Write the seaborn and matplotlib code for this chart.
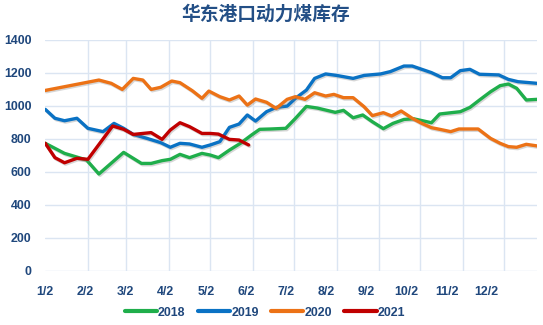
import numpy as np
import pandas as pd
import matplotlib
matplotlib.use("Agg")
import matplotlib.pyplot as plt
import matplotlib.dates as mdates
import matplotlib.patheffects as pe
import seaborn as sns

# ---- data: weekly thermal-coal stocks at East China ports (10k t) ----
dates_2018 = ["01-02", "01-16", "02-01", "02-10", "02-28", "03-13", "03-20", "03-28",
              "04-03", "04-10", "04-17", "04-26", "05-02", "05-08", "05-16", "05-24",
              "06-01", "06-07", "06-15", "06-26", "07-03", "07-11", "07-19", "08-01",
              "08-07", "08-14", "08-21", "08-28", "09-05", "09-12", "09-20", "09-27",
              "10-10", "10-16", "10-31", "11-07", "11-14", "11-22", "11-29", "12-05",
              "12-11", "12-18", "12-26"]
stock_2018 = [773, 712, 672, 587, 718, 651, 651, 668,
              676, 706, 686, 712, 702, 686, 732, 773,
              823, 858, 860, 864, 924, 997, 987, 961,
              973, 928, 945, 904, 862, 894, 918, 922,
              898, 951, 965, 991, 1036, 1086, 1123, 1133,
              1107, 1036, 1040]

dates_2019 = ["01-02", "01-09", "01-16", "01-25", "02-02", "02-13", "02-21", "02-28",
              "03-07", "03-17", "03-27", "04-03", "04-10", "04-17", "04-26", "05-02",
              "05-09", "05-16", "05-23", "05-29", "06-04", "06-12", "06-19", "06-27",
              "07-03", "07-11", "07-17", "07-25", "08-02", "08-14", "08-22", "09-03",
              "09-10", "09-20", "09-26", "10-03", "10-10", "10-18", "10-24", "10-31",
              "11-07", "11-14", "11-28", "12-05", "12-12", "12-26"]
stock_2019 = [979, 925, 910, 925, 864, 844, 894, 864,
              827, 803, 777, 749, 773, 769, 749, 763,
              783, 870, 890, 945, 908, 965, 991, 999,
              1046, 1096, 1167, 1194, 1185, 1167, 1185, 1194,
              1208, 1242, 1242, 1222, 1202, 1171, 1171, 1214,
              1222, 1192, 1188, 1161, 1147, 1137]

dates_2020 = ["01-02", "02-10", "02-19", "02-27", "03-07", "03-14", "03-20", "03-27",
              "04-04", "04-10", "04-19", "04-26", "05-01", "05-09", "05-16", "05-23",
              "05-29", "06-04", "06-12", "06-19", "06-27", "07-03", "07-10", "07-17",
              "07-25", "07-31", "08-07", "08-14", "08-22", "08-28", "09-05", "09-11",
              "09-18", "09-26", "10-03", "10-10", "10-16", "10-24", "10-30", "11-13",
              "11-22", "11-29", "12-05", "12-11", "12-18", "12-26"]
stock_2020 = [1094, 1157, 1137, 1100, 1167, 1157, 1100, 1113,
              1151, 1141, 1092, 1046, 1090, 1056, 1036, 1060,
              1005, 1042, 1022, 985, 1040, 1056, 1040, 1080,
              1060, 1070, 1050, 1050, 995, 941, 959, 939,
              969, 925, 894, 868, 858, 844, 860, 860,
              803, 773, 753, 749, 767, 757]

dates_2021 = ["01-02", "01-09", "01-16", "01-25", "02-02", "02-20", "02-28", "03-07",
              "03-14", "03-20", "03-28", "04-03", "04-10", "04-17", "04-26", "05-02",
              "05-08", "05-16", "05-23", "05-30"]
stock_2021 = [773, 686, 655, 682, 676, 878, 858, 827,
              833, 838, 797, 854, 898, 874, 833, 833,
              829, 797, 793, 763]

years = ["2018", "2019", "2020", "2021"]
colors = ["#1fae4b", "#0a72c4", "#ec7216", "#c00000"]
month_labels = ["1/2", "2/2", "3/2", "4/2", "5/2", "6/2",
                "7/2", "8/2", "9/2", "10/2", "11/2", "12/2"]
y_ticks = [0, 200, 400, 600, 800, 1000, 1200, 1400]
title = "华东港口动力煤库存"

# ---- long-form table, all years mapped onto one calendar year ----
frames = []
for yr, d, v in zip(years, [dates_2018, dates_2019, dates_2020, dates_2021],
                    [stock_2018, stock_2019, stock_2020, stock_2021]):
    frames.append(pd.DataFrame({
        "date": pd.to_datetime(["2001-" + s for s in d]),
        "stock": v,
        "year": yr,
    }))
df = pd.concat(frames, ignore_index=True)

sns.set_theme(style="white")
plt.rcParams["font.family"] = ["Liberation Sans", "DejaVu Sans"]

W, H, DPI = 543, 325, 100
fig = plt.figure(figsize=(W / DPI, H / DPI), dpi=DPI)
fig.patch.set_facecolor("white")

# faint dotted backdrop over the whole canvas
bg = fig.add_axes([0, 0, 1, 1], zorder=-5)
bg.set_xlim(0, W)
bg.set_ylim(H, 0)
bg.axis("off")
gx, gy = np.meshgrid(np.arange(2.1, W, 7.7), np.arange(2.5, H, 8.1))
bg.scatter(gx.ravel(), gy.ravel(), s=0.5, marker="s", color="#ebebeb",
           linewidths=0)

ax = fig.add_axes([45.3 / W, 1 - 270.7 / H, (536.7 - 45.3) / W, (270.7 - 40) / H])
ax.patch.set_alpha(0)

text_color = "#1f477c"
shadow = [pe.SimpleLineShadow(offset=(0.8, -1.0), shadow_color="#7a7a7a", alpha=0.3),
          pe.Normal()]

sns.lineplot(data=df, x="date", y="stock", hue="year", hue_order=years,
             palette=dict(zip(years, colors)), linewidth=2.4, ax=ax,
             estimator=None, sort=True, legend=True)
for ln in ax.get_lines():
    ln.set_path_effects(shadow)
    ln.set_solid_joinstyle("round")

start = pd.Timestamp("2001-01-02")
ax.set_xlim(start, start + pd.Timedelta(days=357.6))
ax.set_ylim(0, 1400)

# vertical grid on the 2nd of every month
ax.xaxis.set_minor_locator(mdates.MonthLocator(bymonthday=2))
ax.grid(True, which="minor", axis="x", color="#dbe5f2", linewidth=1.0)
ax.grid(False, which="major", axis="x")
label_pos = [start + pd.Timedelta(days=29.2 * k) for k in range(len(month_labels))]
ax.set_xticks(label_pos)
ax.set_xticklabels(month_labels)
ax.set_yticks(y_ticks)
ax.set_yticklabels([str(v) for v in y_ticks])
ax.grid(True, which="major", axis="y", color="#dbe5f2", linewidth=1.0)
ax.tick_params(axis="both", which="both", length=0)
ax.tick_params(axis="y", pad=10)
ax.tick_params(axis="x", pad=11)
for lab in ax.get_xticklabels() + ax.get_yticklabels():
    lab.set_fontweight("bold")
    lab.set_fontsize(8.9)
    lab.set_color(text_color)
for s in ax.spines.values():
    s.set_visible(False)
ax.set_xlabel("")
ax.set_ylabel("")

handles, labels = ax.get_legend_handles_labels()
for h in handles:
    h.set_linewidth(3)
    h.set_path_effects([])
leg = ax.legend(handles, labels, loc="center", bbox_to_anchor=(265 / W, 1 - 312.7 / H),
                bbox_transform=fig.transFigure, ncol=4, frameon=False,
                handlelength=2.6, handletextpad=0.1, columnspacing=1.0,
                prop={"weight": "bold", "size": 8.9})
for t in leg.get_texts():
    t.set_color(text_color)

fig.text(266 / W, 1 - 14 / H, title, ha="center", va="center",
         fontsize=13.5, fontweight="bold", color="#234f86",
         family=["Noto Sans CJK SC", "DejaVu Sans"])

fig.savefig("out.png", dpi=DPI, facecolor="white")
